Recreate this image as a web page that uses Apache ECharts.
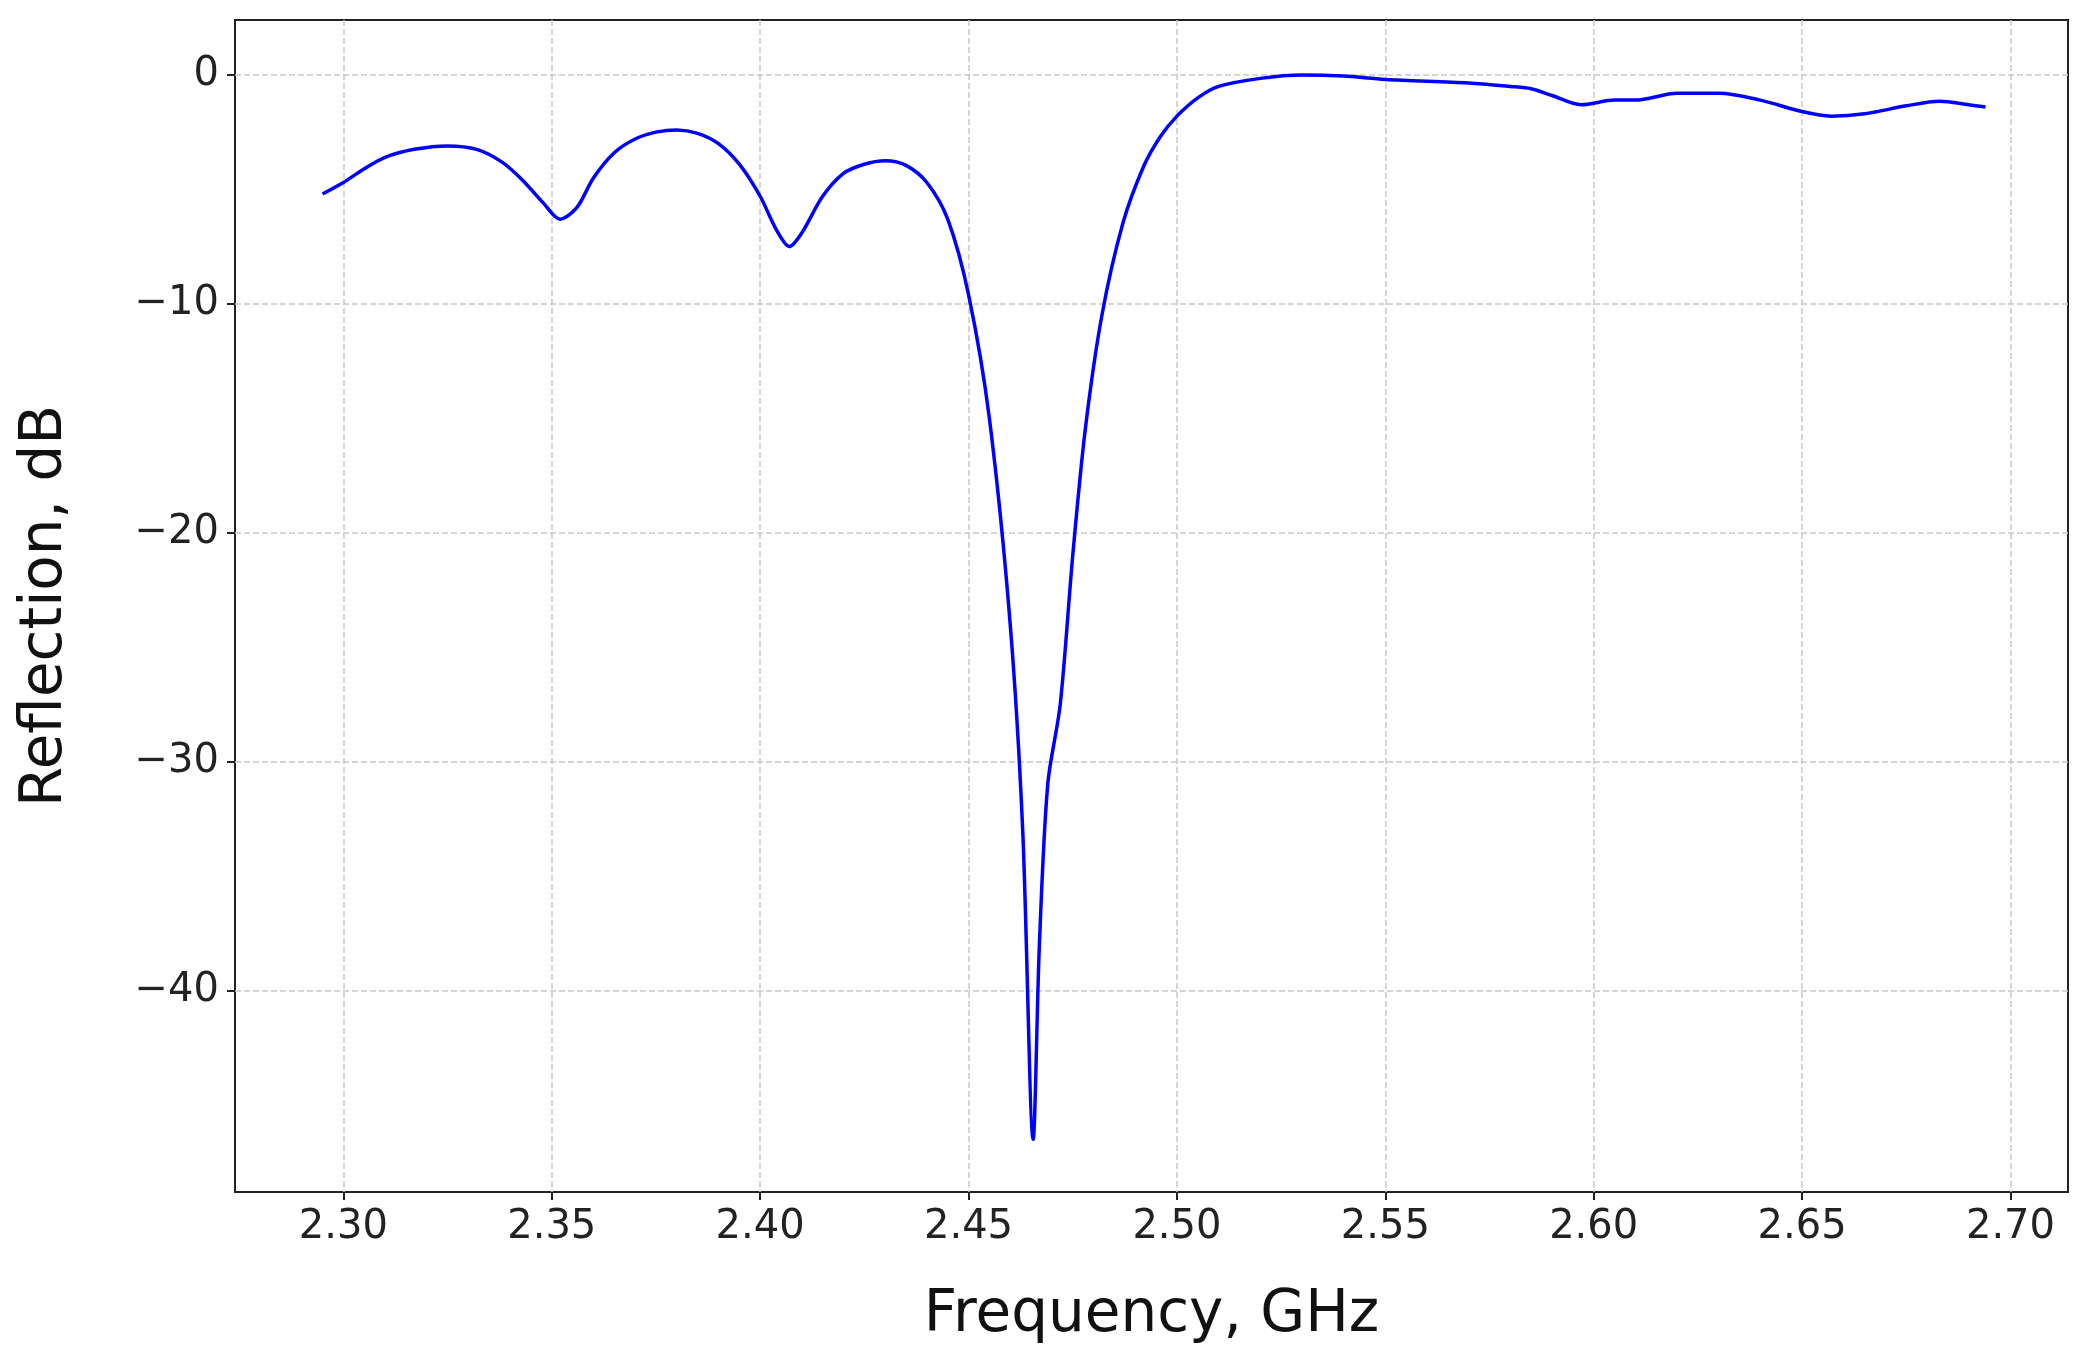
<!DOCTYPE html>
<html>
<head>
<meta charset="utf-8">
<script src="https://cdn.jsdelivr.net/npm/echarts@6/dist/echarts.min.js"></script>
<style>html,body{margin:0;background:#fff}#chart{width:2088px;height:1372px}</style>
</head>
<body>
<div id="chart"></div>
<script>
// Gemeten waarden uit de figuur
const freq = [2.295, 2.30, 2.305, 2.31, 2.317, 2.325, 2.332, 2.338, 2.343, 2.348, 2.352, 2.356, 2.36, 2.365, 2.37, 2.375, 2.38, 2.385, 2.39, 2.395, 2.40, 2.404, 2.407, 2.41, 2.415, 2.42, 2.425, 2.43, 2.435, 2.44, 2.445, 2.45, 2.455, 2.46, 2.463, 2.4655, 2.467, 2.469, 2.472, 2.475, 2.478, 2.482, 2.487, 2.492, 2.496, 2.50, 2.505, 2.51, 2.52, 2.53, 2.54, 2.55, 2.57, 2.58, 2.585, 2.59, 2.597, 2.605, 2.61, 2.62, 2.63, 2.64, 2.65, 2.657, 2.665, 2.675, 2.683, 2.69, 2.694];
const reflection = [-5.2, -4.7, -4.1, -3.6, -3.25, -3.1, -3.25, -3.8, -4.6, -5.6, -6.3, -5.8, -4.5, -3.4, -2.8, -2.5, -2.4, -2.55, -3.0, -3.9, -5.3, -6.8, -7.5, -6.9, -5.3, -4.3, -3.9, -3.75, -3.95, -4.7, -6.3, -9.6, -15.0, -24, -33, -46.5, -38, -31, -27.5, -21, -15.5, -10.5, -6.5, -4.0, -2.7, -1.8, -1.0, -0.5, -0.15, 0, -0.05, -0.2, -0.35, -0.5, -0.6, -0.9, -1.3, -1.1, -1.1, -0.8, -0.8, -1.1, -1.6, -1.8, -1.7, -1.35, -1.15, -1.3, -1.4];
const xTicks = [2.30, 2.35, 2.40, 2.45, 2.50, 2.55, 2.60, 2.65, 2.70];
const yTicks = [-40, -30, -20, -10, 0];

const chart = echarts.init(document.getElementById('chart'));
const font = 'DejaVu Sans';
const grid = { show: true, type: 'dashed', color: '#c8c8c8', width: 1.5 };

chart.setOption({
    animation: false,
    grid: { left: 235, right: 20, top: 20, bottom: 180, show: true, borderColor: '#222', borderWidth: 2 },
    xAxis: {
        type: 'value', min: 2.274, max: 2.7138,
        name: 'Frequency, GHz', nameLocation: 'middle', nameGap: 95,
        nameTextStyle: { fontFamily: font, fontSize: 58, color: '#111' },
        axisLine: { show: false, onZero: false },
        axisTick: { show: true, customValues: xTicks, length: 8, lineStyle: { color: '#222', width: 2 } },
        axisLabel: { customValues: xTicks, fontFamily: font, fontSize: 40, color: '#222', margin: 16, formatter: v => v.toFixed(2) },
        splitLine: { show: true, lineStyle: grid }
    },
    yAxis: {
        type: 'value', min: -48.8, max: 2.4,
        name: 'Reflection, dB', nameLocation: 'middle', nameGap: 160,
        nameTextStyle: { fontFamily: font, fontSize: 58, color: '#111' },
        axisLine: { show: false, onZero: false },
        axisTick: { show: true, customValues: yTicks, length: 8, lineStyle: { color: '#222', width: 2 } },
        axisLabel: { customValues: yTicks, fontFamily: font, fontSize: 40, color: '#222', margin: 16, formatter: v => String(v).replace('-', '\u2212') },
        splitLine: { show: true, lineStyle: grid }
    },
    series: [{
        type: 'line', data: freq.map((f, i) => [f, reflection[i]]),
        smooth: 0.3, showSymbol: false,
        lineStyle: { color: '#0000ff', width: 3.5 }
    }]
});
</script>
</body>
</html>
